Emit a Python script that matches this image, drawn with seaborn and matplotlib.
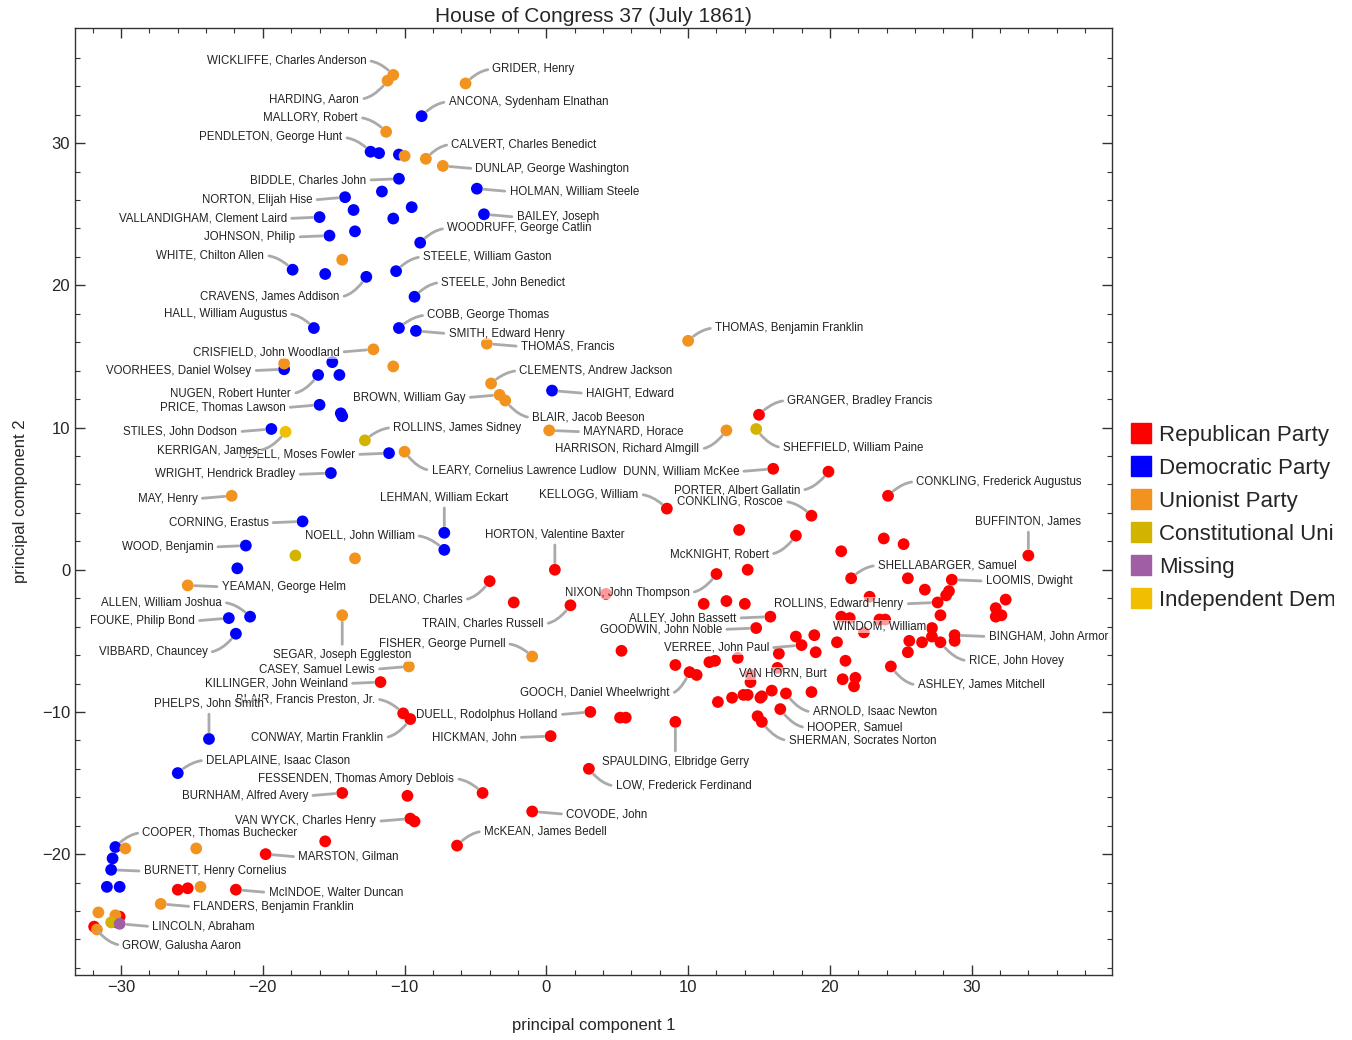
import numpy as np
import pandas as pd
import matplotlib.pyplot as plt
import seaborn as sns
from matplotlib.lines import Line2D
from matplotlib.transforms import Bbox, TransformedBbox

# ---------------------------------------------------------------
# parties and colours
parties = ["Republican Party", "Democratic Party", "Unionist Party",
           "Constitutional Union Party", "Missing", "Independent Democrat"]
colors = ["#FF0000", "#0000FF", "#F2931F", "#D2B400", "#A05FA5", "#F0C000"]

# members: (pc1, pc2, label) -- label "" means no callout
republican = [
    (15.0, 10.9, "GRANGER, Bradley Francis"), (16.0, 7.1, "DUNN, William McKee"),
    (19.9, 6.9, "PORTER, Albert Gallatin"), (8.5, 4.3, "KELLOGG, William"),
    (18.7, 3.8, "CONKLING, Roscoe"), (13.6, 2.8, ""), (17.6, 2.4, "McKNIGHT, Robert"),
    (20.8, 1.3, ""), (14.2, 0.0, ""), (12.0, -0.3, "NIXON, John Thompson"),
    (11.1, -2.4, ""), (12.7, -2.2, ""), (14.0, -2.4, ""),
    (15.8, -3.3, "ALLEY, John Bassett"), (14.8, -4.1, "GOODWIN, John Noble"),
    (4.2, -1.7, ""), (0.6, 0.0, "HORTON, Valentine Baxter"), (-4.0, -0.8, "DELANO, Charles"),
    (-2.3, -2.3, ""), (1.7, -2.5, "TRAIN, Charles Russell"), (5.3, -5.7, ""),
    (20.8, -3.3, ""), (17.6, -4.7, ""), (18.9, -4.6, ""), (20.5, -5.1, ""),
    (18.0, -5.3, "VERREE, John Paul"), (19.0, -5.8, ""), (16.4, -5.9, ""),
    (24.1, 5.2, "CONKLING, Frederick Augustus"), (34.0, 1.0, "BUFFINTON, James"),
    (23.8, 2.2, ""), (25.2, 1.8, ""), (21.5, -0.6, "SHELLABARGER, Samuel"),
    (25.5, -0.6, ""), (28.6, -0.7, "LOOMIS, Dwight"), (26.7, -1.4, ""),
    (28.4, -1.5, ""), (28.2, -1.8, ""), (32.4, -2.1, ""),
    (27.6, -2.3, "ROLLINS, Edward Henry"), (22.8, -1.9, ""), (31.7, -2.7, ""),
    (31.7, -3.3, ""), (32.1, -3.2, ""), (27.8, -3.2, ""), (21.4, -3.4, ""),
    (23.5, -3.5, ""), (23.9, -3.5, ""), (22.4, -4.4, ""), (27.2, -4.1, "WINDOM, William"),
    (28.8, -4.6, "BINGHAM, John Armor"), (28.8, -5.0, ""), (25.6, -5.0, ""),
    (26.5, -5.1, ""), (27.2, -4.7, ""), (27.8, -5.1, "RICE, John Hovey"),
    (25.5, -5.8, ""), (21.1, -6.4, ""), (24.3, -6.8, "ASHLEY, James Mitchell"),
    (21.8, -7.6, ""), (21.7, -8.2, ""), (20.9, -7.7, "VAN HORN, Burt"),
    (9.1, -6.7, ""), (10.1, -7.2, "GOOCH, Daniel Wheelwright"), (10.6, -7.4, ""),
    (11.5, -6.5, ""), (11.9, -6.4, ""), (13.5, -6.2, ""), (16.3, -6.9, ""),
    (14.4, -7.4, ""), (14.4, -7.9, ""), (15.9, -8.5, ""),
    (16.9, -8.7, "ARNOLD, Isaac Newton"), (18.7, -8.6, ""), (12.1, -9.3, ""),
    (13.1, -9.0, ""), (13.9, -8.8, ""), (14.2, -8.8, ""), (15.1, -9.0, ""),
    (15.2, -8.9, ""), (16.5, -9.8, "HOOPER, Samuel"), (14.9, -10.3, ""),
    (15.2, -10.7, "SHERMAN, Socrates Norton"), (3.1, -10.0, "DUELL, Rodolphus Holland"),
    (5.2, -10.4, ""), (5.6, -10.4, ""), (9.1, -10.7, "SPAULDING, Elbridge Gerry"),
    (3.0, -14.0, "LOW, Frederick Ferdinand"), (-11.7, -7.9, "KILLINGER, John Weinland"),
    (-10.1, -10.1, "BLAIR, Francis Preston, Jr."), (-9.6, -10.5, "CONWAY, Martin Franklin"),
    (0.3, -11.7, "HICKMAN, John"), (-14.4, -15.7, "BURNHAM, Alfred Avery"),
    (-9.8, -15.9, ""), (-4.5, -15.7, "FESSENDEN, Thomas Amory Deblois"),
    (-9.6, -17.5, "VAN WYCK, Charles Henry"), (-9.3, -17.7, ""),
    (-1.0, -17.0, "COVODE, John"), (-6.3, -19.4, "McKEAN, James Bedell"),
    (-19.8, -20.0, "MARSTON, Gilman"), (-15.6, -19.1, ""), (-26.0, -22.5, ""),
    (-25.3, -22.4, ""), (-21.9, -22.5, "McINDOE, Walter Duncan"), (-30.1, -24.4, ""),
    (-31.9, -25.1, "GROW, Galusha Aaron"),
]

democratic = [
    (-8.8, 31.9, "ANCONA, Sydenham Elnathan"), (-12.4, 29.4, "PENDLETON, George Hunt"),
    (-11.8, 29.3, ""), (-10.4, 29.2, ""), (-10.4, 27.5, "BIDDLE, Charles John"),
    (-11.6, 26.6, ""), (-4.9, 26.8, "HOLMAN, William Steele"),
    (-14.2, 26.2, "NORTON, Elijah Hise"), (-13.6, 25.3, ""), (-9.5, 25.5, ""),
    (-10.8, 24.7, ""), (-4.4, 25.0, "BAILEY, Joseph"),
    (-16.0, 24.8, "VALLANDIGHAM, Clement Laird"), (-15.3, 23.5, "JOHNSON, Philip"),
    (-13.5, 23.8, ""), (-8.9, 23.0, "WOODRUFF, George Catlin"),
    (-10.6, 21.0, "STEELE, William Gaston"), (-12.7, 20.6, "CRAVENS, James Addison"),
    (-17.9, 21.1, "WHITE, Chilton Allen"), (-15.6, 20.8, ""),
    (-9.3, 19.2, "STEELE, John Benedict"), (-16.4, 17.0, "HALL, William Augustus"),
    (-10.4, 17.0, "COBB, George Thomas"), (-9.2, 16.8, "SMITH, Edward Henry"),
    (-15.1, 14.6, ""), (-18.5, 14.1, "VOORHEES, Daniel Wolsey"),
    (-16.1, 13.7, "NUGEN, Robert Hunter"), (-14.6, 13.7, ""),
    (-16.0, 11.6, "PRICE, Thomas Lawson"), (-14.5, 11.0, ""), (-14.4, 10.8, ""),
    (-19.4, 9.9, "STILES, John Dodson"), (-11.1, 8.2, "ODELL, Moses Fowler"),
    (-15.2, 6.8, "WRIGHT, Hendrick Bradley"), (-17.2, 3.4, "CORNING, Erastus"),
    (-7.2, 2.6, "LEHMAN, William Eckart"), (-7.2, 1.4, "NOELL, John William"),
    (-21.2, 1.7, "WOOD, Benjamin"), (-21.8, 0.1, ""),
    (-20.9, -3.3, "ALLEN, William Joshua"), (-22.4, -3.4, "FOUKE, Philip Bond"),
    (-21.9, -4.5, "VIBBARD, Chauncey"), (-23.8, -11.9, "PHELPS, John Smith"),
    (-26.0, -14.3, "DELAPLAINE, Isaac Clason"), (-30.4, -19.5, "COOPER, Thomas Buchecker"),
    (-30.6, -20.3, ""), (-30.7, -21.1, "BURNETT, Henry Cornelius"),
    (-31.0, -22.3, ""), (-30.1, -22.3, ""), (-30.3, -24.8, ""),
    (0.4, 12.6, "HAIGHT, Edward"),
]

unionist = [
    (-10.8, 34.8, "WICKLIFFE, Charles Anderson"), (-11.2, 34.4, "HARDING, Aaron"),
    (-5.7, 34.2, "GRIDER, Henry"), (-11.3, 30.8, "MALLORY, Robert"), (-10.0, 29.1, ""),
    (-8.5, 28.9, "CALVERT, Charles Benedict"), (-7.3, 28.4, "DUNLAP, George Washington"),
    (-14.4, 21.8, ""), (-4.2, 15.9, "THOMAS, Francis"),
    (10.0, 16.1, "THOMAS, Benjamin Franklin"), (-12.2, 15.5, "CRISFIELD, John Woodland"),
    (-18.5, 14.5, ""), (-10.8, 14.3, ""), (-3.9, 13.1, "CLEMENTS, Andrew Jackson"),
    (-3.3, 12.3, "BROWN, William Gay"), (-2.9, 11.9, "BLAIR, Jacob Beeson"),
    (0.2, 9.8, "MAYNARD, Horace"), (12.7, 9.8, "HARRISON, Richard Almgill"),
    (-10.0, 8.3, "LEARY, Cornelius Lawrence Ludlow"), (-22.2, 5.2, "MAY, Henry"),
    (-13.5, 0.8, ""), (-25.3, -1.1, "YEAMAN, George Helm"),
    (-14.4, -3.2, "SEGAR, Joseph Eggleston"), (-1.0, -6.1, "FISHER, George Purnell"),
    (-9.7, -6.8, "CASEY, Samuel Lewis"), (-29.7, -19.6, ""), (-24.7, -19.6, ""),
    (-24.4, -22.3, ""), (-27.2, -23.5, "FLANDERS, Benjamin Franklin"),
    (-31.6, -24.1, ""), (-31.7, -25.3, ""), (-30.4, -24.3, ""),
]

constitutional = [
    (-12.8, 9.1, "ROLLINS, James Sidney"), (14.8, 9.9, "SHEFFIELD, William Paine"),
    (-17.7, 1.0, ""), (-30.7, -24.8, ""),
]

missing = [(-30.1, -24.9, "LINCOLN, Abraham")]

independent = [(-18.4, 9.7, "KERRIGAN, James")]

# callout text anchors: label -> (pc1, pc2, alignment)
label_pos = {
    "WICKLIFFE, Charles Anderson": (-12.7, 35.8, "right"), "HARDING, Aaron": (-13.2, 33.1, "right"),
    "GRIDER, Henry": (-3.8, 35.2, "left"), "ANCONA, Sydenham Elnathan": (-6.9, 32.9, "left"),
    "MALLORY, Robert": (-13.3, 31.8, "right"), "PENDLETON, George Hunt": (-14.4, 30.4, "right"),
    "CALVERT, Charles Benedict": (-6.7, 29.9, "left"), "DUNLAP, George Washington": (-5.0, 28.2, "left"),
    "BIDDLE, Charles John": (-12.7, 27.4, "right"), "HOLMAN, William Steele": (-2.6, 26.6, "left"),
    "NORTON, Elijah Hise": (-16.5, 26.0, "right"), "BAILEY, Joseph": (-2.1, 24.8, "left"),
    "VALLANDIGHAM, Clement Laird": (-18.3, 24.7, "right"), "WOODRUFF, George Catlin": (-7.0, 24.0, "left"),
    "JOHNSON, Philip": (-17.7, 23.4, "right"), "WHITE, Chilton Allen": (-19.9, 22.1, "right"),
    "STEELE, William Gaston": (-8.7, 22.0, "left"), "STEELE, John Benedict": (-7.4, 20.2, "left"),
    "CRAVENS, James Addison": (-14.6, 19.2, "right"), "HALL, William Augustus": (-18.3, 18.0, "right"),
    "COBB, George Thomas": (-8.4, 17.9, "left"), "SMITH, Edward Henry": (-6.9, 16.6, "left"),
    "THOMAS, Benjamin Franklin": (11.9, 17.0, "left"), "THOMAS, Francis": (-1.8, 15.7, "left"),
    "CRISFIELD, John Woodland": (-14.6, 15.3, "right"), "VOORHEES, Daniel Wolsey": (-20.8, 14.0, "right"),
    "CLEMENTS, Andrew Jackson": (-1.9, 14.0, "left"), "NUGEN, Robert Hunter": (-18.0, 12.4, "right"),
    "HAIGHT, Edward": (2.8, 12.4, "left"), "BROWN, William Gay": (-5.7, 12.1, "right"),
    "GRANGER, Bradley Francis": (17.0, 11.9, "left"), "PRICE, Thomas Lawson": (-18.4, 11.4, "right"),
    "BLAIR, Jacob Beeson": (-1.0, 10.7, "left"), "ROLLINS, James Sidney": (-10.8, 10.0, "left"),
    "STILES, John Dodson": (-21.8, 9.7, "right"), "MAYNARD, Horace": (2.6, 9.7, "left"),
    "HARRISON, Richard Almgill": (10.8, 8.5, "right"), "SHEFFIELD, William Paine": (16.7, 8.6, "left"),
    "KERRIGAN, James": (-20.4, 8.4, "right"), "ODELL, Moses Fowler": (-13.5, 8.1, "right"),
    "LEARY, Cornelius Lawrence Ludlow": (-8.1, 7.0, "left"), "DUNN, William McKee": (13.6, 6.9, "right"),
    "WRIGHT, Hendrick Bradley": (-17.7, 6.7, "right"), "CONKLING, Frederick Augustus": (26.1, 6.2, "left"),
    "PORTER, Albert Gallatin": (17.9, 5.6, "right"), "MAY, Henry": (-24.6, 5.0, "right"),
    "LEHMAN, William Eckart": (-7.2, 5.1, "center"), "KELLOGG, William": (6.5, 5.3, "right"),
    "CONKLING, Roscoe": (16.7, 4.8, "right"), "BUFFINTON, James": (34.0, 3.4, "center"),
    "CORNING, Erastus": (-19.6, 3.3, "right"), "HORTON, Valentine Baxter": (0.6, 2.5, "center"),
    "NOELL, John William": (-9.3, 2.4, "right"), "McKNIGHT, Robert": (15.7, 1.1, "right"),
    "WOOD, Benjamin": (-23.5, 1.6, "right"), "SHELLABARGER, Samuel": (23.4, 0.3, "left"),
    "LOOMIS, Dwight": (31.0, -0.8, "left"), "YEAMAN, George Helm": (-22.9, -1.2, "left"),
    "NIXON, John Thompson": (10.1, -1.6, "right"), "DELANO, Charles": (-5.9, -2.1, "right"),
    "ALLEN, William Joshua": (-22.9, -2.3, "right"), "ROLLINS, Edward Henry": (25.2, -2.4, "right"),
    "ALLEY, John Bassett": (13.4, -3.4, "right"), "FOUKE, Philip Bond": (-24.8, -3.6, "right"),
    "TRAIN, Charles Russell": (-0.2, -3.8, "right"), "WINDOM, William": (26.8, -4.0, "right"),
    "GOODWIN, John Noble": (12.4, -4.2, "right"), "BINGHAM, John Armor": (31.2, -4.7, "left"),
    "VIBBARD, Chauncey": (-23.9, -5.8, "right"), "FISHER, George Purnell": (-2.9, -5.2, "right"),
    "VERREE, John Paul": (15.7, -5.5, "right"), "SEGAR, Joseph Eggleston": (-14.4, -6.0, "center"),
    "RICE, John Hovey": (29.8, -6.4, "left"), "CASEY, Samuel Lewis": (-12.1, -7.0, "right"),
    "VAN HORN, Burt": (19.8, -7.3, "right"), "KILLINGER, John Weinland": (-14.0, -8.0, "right"),
    "ASHLEY, James Mitchell": (26.2, -8.1, "left"), "GOOCH, Daniel Wheelwright": (8.7, -8.7, "right"),
    "BLAIR, Francis Preston, Jr.": (-12.1, -9.1, "right"), "PHELPS, John Smith": (-23.8, -9.4, "center"),
    "DUELL, Rodolphus Holland": (0.8, -10.2, "right"), "ARNOLD, Isaac Newton": (18.8, -10.0, "left"),
    "HOOPER, Samuel": (18.4, -11.1, "left"), "CONWAY, Martin Franklin": (-11.5, -11.8, "right"),
    "HICKMAN, John": (-2.1, -11.8, "right"), "SHERMAN, Socrates Norton": (17.1, -12.0, "left"),
    "SPAULDING, Elbridge Gerry": (9.1, -13.5, "center"), "DELAPLAINE, Isaac Clason": (-24.0, -13.4, "left"),
    "FESSENDEN, Thomas Amory Deblois": (-6.5, -14.7, "right"), "LOW, Frederick Ferdinand": (4.9, -15.2, "left"),
    "BURNHAM, Alfred Avery": (-16.8, -15.9, "right"), "COVODE, John": (1.4, -17.2, "left"),
    "VAN WYCK, Charles Henry": (-12.0, -17.7, "right"), "COOPER, Thomas Buchecker": (-28.5, -18.5, "left"),
    "McKEAN, James Bedell": (-4.4, -18.4, "left"), "MARSTON, Gilman": (-17.5, -20.2, "left"),
    "BURNETT, Henry Cornelius": (-28.4, -21.2, "left"), "McINDOE, Walter Duncan": (-19.6, -22.7, "left"),
    "FLANDERS, Benjamin Franklin": (-24.9, -23.7, "left"), "LINCOLN, Abraham": (-27.8, -25.1, "left"),
    "GROW, Galusha Aaron": (-29.9, -26.4, "left"),
}

# ---------------------------------------------------------------
rows = []
for party, members in zip(parties, [republican, democratic, unionist,
                                    constitutional, missing, independent]):
    for x, y, name in members:
        rows.append({"pc1": x, "pc2": y, "name": name, "party": party})
df = pd.DataFrame(rows)

sns.set_style("ticks")
plt.rcParams["font.family"] = ["Liberation Sans", "DejaVu Sans"]

fig = plt.figure(figsize=(13.52, 10.4), dpi=100)
ax = fig.add_axes([75 / 1352, 65 / 1040, 1037 / 1352, 947 / 1040])

sns.scatterplot(data=df, x="pc1", y="pc2", hue="party", hue_order=parties,
                palette=colors, s=72, linewidth=0, legend=False, ax=ax, zorder=2)

# callouts
for _, r in df[df["name"] != ""].iterrows():
    tx, ty, ha = label_pos[r["name"]]
    dx, dy = r["pc1"] - tx, r["pc2"] - ty
    arrow = None
    if np.hypot(dx, dy) > 1.2:
        if ha == "center":
            relpos = (0.5, 0.0) if dy < 0 else (0.5, 1.0)
            conn = "arc3"
        else:
            relpos = (1.0, 0.5) if ha == "right" else (0.0, 0.5)
            if abs(dy) < 0.4:
                conn = "arc3"
            else:
                ang = np.degrees(np.arctan2(2 * dy, dx))
                conn = f"angle3,angleA=0,angleB={ang:.1f}"
        arrow = dict(arrowstyle="-", color="#AAAAAA", lw=2, shrinkA=3, shrinkB=5,
                     relpos=relpos, connectionstyle=conn)
    ax.annotate(r["name"], xy=(r["pc1"], r["pc2"]), xytext=(tx, ty),
                ha=ha, va="center", fontsize=8.3, color="#222222",
                bbox=dict(boxstyle="square,pad=0.05", fc="white", ec="none", alpha=0.6),
                arrowprops=arrow, zorder=3)

ax.set_xlim(-33.25, 39.9)
ax.set_ylim(-28.5, 38.1)
ax.set_xticks(np.arange(-30, 31, 10))
ax.set_xticks(np.arange(-32, 40, 2), minor=True)
ax.set_yticks(np.arange(-20, 31, 10))
ax.set_yticks(np.arange(-28, 38, 2), minor=True)
ax.tick_params(which="both", direction="in", top=True, right=True,
               labelsize=12, color="#333333")
ax.tick_params(which="major", length=7, width=1)
ax.tick_params(which="minor", length=3.5, width=0.8)
for sp in ax.spines.values():
    sp.set_color("#333333")
    sp.set_linewidth(1)

ax.set_xlabel("principal component 1", fontsize=12, labelpad=17)
ax.set_ylabel("principal component 2", fontsize=12, labelpad=10)
ax.set_title("House of Congress 37 (July 1861)", fontsize=15, pad=4)

handles = [Line2D([], [], marker="s", linestyle="", markersize=14,
                  markerfacecolor=c, markeredgecolor=c) for c in colors]
leg = ax.legend(handles, parties, loc="center left", bbox_to_anchor=(1.009, 0.483),
                frameon=False, fontsize=16, handlelength=1, handletextpad=0.3,
                labelspacing=0.54, borderaxespad=0)
# the legend column is cut at the same place as in the original
clip = TransformedBbox(Bbox([[0, 0], [1334 / 1352, 1]]), fig.transFigure)
for t in leg.get_texts():
    t.set_clip_on(True)
    t.set_clip_box(clip)

fig.savefig("out.png", dpi=100)
